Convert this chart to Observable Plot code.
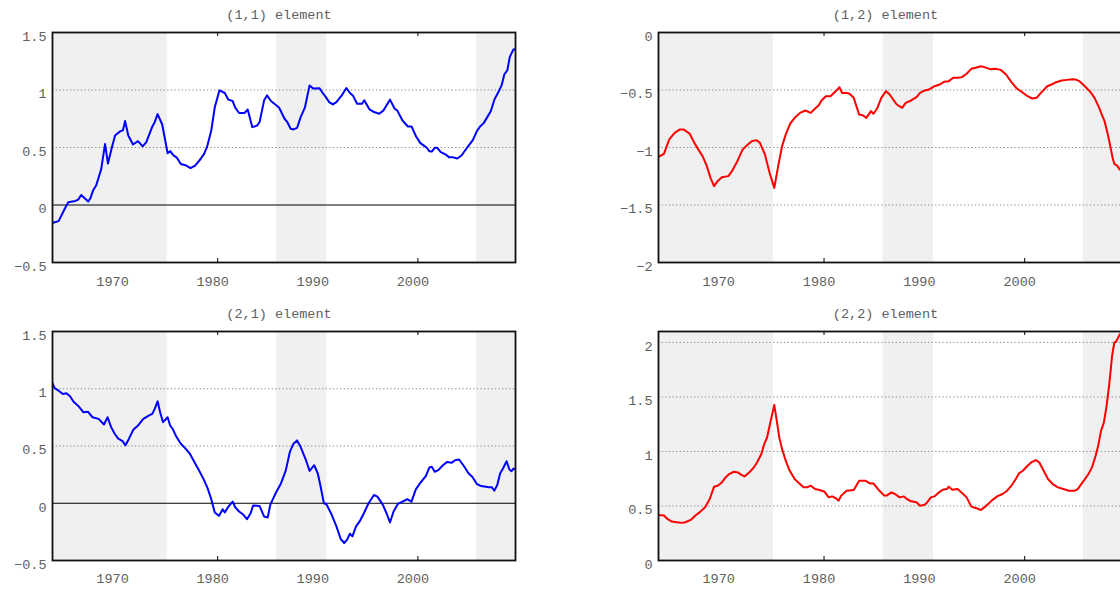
<!DOCTYPE html>
<html><head><meta charset="utf-8">
<script src="https://cdn.jsdelivr.net/npm/d3@7"></script>
<script src="https://cdn.jsdelivr.net/npm/@observablehq/plot@0.6"></script>
<style>
html,body{margin:0;padding:0;overflow:hidden;background:#fff;}
#root{position:relative;width:1120px;height:594px;overflow:hidden;}
.panel{position:absolute;}
</style></head><body><div id="root"></div>
<script>
// ---- data ----
const years11 = [1963.5,1963.71,1964.11,1964.71,1965.07,1965.79,1966.07,1966.36,1967.07,1967.29,1967.57,1967.86,1968.36,1968.75,1969.04,1969.43,1969.75,1970.25,1970.54,1970.75,1971.07,1971.54,1972.04,1972.5,1972.86,1973.46,1973.71,1974.0,1974.46,1975.0,1975.25,1975.61,1975.89,1976.32,1976.86,1977.29,1977.75,1978.29,1978.64,1978.93,1979.36,1979.71,1980.18,1980.71,1981.07,1981.5,1981.75,1982.14,1982.68,1983.0,1983.46,1983.93,1984.18,1984.64,1984.93,1985.32,1985.79,1986.14,1986.68,1986.96,1987.29,1987.57,1987.93,1988.29,1988.71,1989.18,1989.54,1990.18,1990.54,1990.79,1991.14,1991.5,1991.86,1992.39,1992.86,1993.21,1993.5,1993.93,1994.43,1994.64,1995.14,1995.61,1996.14,1996.57,1997.21,1997.68,1997.93,1998.46,1999.0,1999.36,1999.82,2000.25,2000.86,2001.14,2001.39,2001.68,2001.93,2002.29,2002.75,2003.11,2003.46,2003.93,2004.36,2004.71,2005.07,2005.5,2005.89,2006.21,2006.57,2006.93,2007.29,2007.64,2008.04,2008.36,2008.64,2008.93,2009.18,2009.54,2009.75];
const vals11 = [-0.157,-0.15,-0.14,-0.035,0.023,0.035,0.047,0.087,0.03,0.06,0.13,0.17,0.31,0.53,0.36,0.5,0.605,0.64,0.65,0.73,0.605,0.526,0.555,0.51,0.545,0.68,0.72,0.79,0.7,0.45,0.468,0.43,0.415,0.357,0.343,0.32,0.343,0.4,0.445,0.503,0.648,0.85,0.997,0.974,0.916,0.904,0.846,0.8,0.8,0.83,0.677,0.69,0.72,0.91,0.953,0.904,0.872,0.846,0.75,0.72,0.663,0.657,0.67,0.764,0.846,1.04,1.012,1.015,0.968,0.94,0.895,0.875,0.895,0.953,1.017,0.974,0.953,0.88,0.88,0.91,0.834,0.808,0.794,0.823,0.916,0.837,0.823,0.735,0.683,0.683,0.596,0.538,0.5,0.468,0.465,0.497,0.497,0.46,0.44,0.416,0.416,0.404,0.43,0.474,0.517,0.567,0.642,0.683,0.712,0.764,0.817,0.916,0.983,1.04,1.137,1.17,1.288,1.352,1.355];

const years12 = [1963.5,1964.04,1964.57,1965.11,1965.64,1966.0,1966.25,1966.61,1967.07,1967.43,1967.89,1968.32,1968.68,1969.04,1969.39,1969.82,1970.46,1970.82,1971.36,1971.89,1972.32,1972.79,1973.25,1973.61,1974.11,1974.57,1975.04,1975.46,1975.82,1976.18,1976.61,1977.07,1977.61,1978.14,1978.68,1979.11,1979.46,1979.75,1980.18,1980.64,1981.11,1981.54,1981.79,1982.25,1982.54,1982.96,1983.5,1983.86,1984.21,1984.68,1984.93,1985.29,1985.71,1986.18,1986.54,1986.89,1987.25,1987.79,1988.14,1988.68,1989.21,1989.57,1990.04,1990.46,1991.0,1991.54,1991.96,1992.43,1992.89,1993.32,1993.75,1994.21,1994.68,1995.11,1995.64,1996.0,1996.54,1997.07,1997.61,1998.14,1998.68,1999.21,1999.75,2000.29,2000.75,2001.18,2001.71,2002.25,2002.68,2003.14,2003.68,2004.21,2004.75,2005.11,2005.46,2006.0,2006.54,2006.96,2007.43,2007.68,2007.96,2008.25,2008.5,2008.75,2008.93,2009.21,2009.46,2009.75];
const vals12 = [-1.081,-1.055,-0.93,-0.872,-0.843,-0.843,-0.858,-0.881,-0.959,-1.012,-1.075,-1.162,-1.264,-1.336,-1.293,-1.258,-1.249,-1.206,-1.119,-1.017,-0.98,-0.945,-0.936,-0.959,-1.061,-1.22,-1.351,-1.148,-0.988,-0.887,-0.794,-0.742,-0.699,-0.678,-0.699,-0.661,-0.635,-0.591,-0.554,-0.554,-0.516,-0.475,-0.525,-0.525,-0.533,-0.568,-0.713,-0.719,-0.742,-0.684,-0.707,-0.661,-0.568,-0.51,-0.539,-0.583,-0.626,-0.655,-0.612,-0.591,-0.562,-0.525,-0.504,-0.496,-0.467,-0.452,-0.429,-0.423,-0.394,-0.394,-0.388,-0.359,-0.316,-0.307,-0.293,-0.301,-0.319,-0.316,-0.325,-0.365,-0.432,-0.487,-0.519,-0.554,-0.574,-0.568,-0.516,-0.467,-0.452,-0.432,-0.417,-0.412,-0.406,-0.409,-0.423,-0.467,-0.516,-0.568,-0.655,-0.713,-0.771,-0.872,-0.974,-1.084,-1.142,-1.157,-1.191,-1.2];

const years21 = [1963.5,1963.71,1964.11,1964.54,1964.89,1965.25,1965.61,1966.14,1966.57,1967.04,1967.5,1968.11,1968.64,1969.0,1969.36,1969.71,1970.07,1970.5,1970.79,1971.14,1971.57,1972.04,1972.57,1973.11,1973.46,1973.71,1974.0,1974.25,1974.54,1975.0,1975.25,1975.5,1975.89,1976.32,1976.79,1977.21,1977.75,1978.21,1978.64,1979.0,1979.36,1979.71,1980.14,1980.5,1980.71,1981.07,1981.5,1981.75,1982.14,1982.57,1982.93,1983.29,1983.54,1984.18,1984.64,1985.0,1985.25,1985.79,1986.32,1986.79,1987.21,1987.57,1987.93,1988.29,1988.82,1989.18,1989.64,1990.0,1990.25,1990.61,1990.86,1991.32,1991.86,1992.29,1992.64,1992.93,1993.21,1993.46,1993.82,1994.18,1994.64,1995.07,1995.61,1995.96,1996.5,1996.86,1997.21,1997.57,1998.0,1998.46,1998.93,1999.36,1999.79,2000.25,2000.79,2001.14,2001.39,2001.68,2002.04,2002.5,2002.93,2003.36,2003.71,2004.11,2004.54,2005.07,2005.43,2005.89,2006.32,2006.79,2007.04,2007.39,2007.64,2007.93,2008.21,2008.5,2008.86,2009.14,2009.36,2009.54,2009.75];
const vals21 = [1.05,1.006,0.983,0.954,0.96,0.934,0.887,0.844,0.795,0.8,0.751,0.737,0.688,0.751,0.665,0.607,0.564,0.543,0.506,0.564,0.642,0.679,0.737,0.766,0.78,0.824,0.89,0.795,0.708,0.751,0.679,0.65,0.578,0.52,0.477,0.434,0.347,0.275,0.202,0.13,0.035,-0.081,-0.11,-0.052,-0.081,-0.029,0.014,-0.035,-0.072,-0.101,-0.139,-0.087,-0.02,-0.023,-0.116,-0.124,-0.014,0.087,0.173,0.283,0.448,0.52,0.549,0.491,0.376,0.283,0.332,0.26,0.159,0.0,-0.009,-0.087,-0.202,-0.312,-0.347,-0.318,-0.266,-0.289,-0.202,-0.159,-0.081,0.0,0.072,0.058,-0.014,-0.087,-0.168,-0.072,-0.006,0.014,0.035,0.014,0.121,0.179,0.237,0.312,0.318,0.275,0.289,0.332,0.361,0.353,0.376,0.382,0.332,0.26,0.231,0.168,0.15,0.145,0.139,0.139,0.11,0.159,0.26,0.303,0.367,0.295,0.28,0.303,0.295];

const years22 = [1963.5,1964.04,1964.39,1964.82,1965.29,1965.82,1966.18,1966.71,1967.18,1967.68,1968.14,1968.61,1969.04,1969.39,1969.82,1970.18,1970.54,1971.0,1971.43,1971.71,1972.07,1972.54,1972.96,1973.32,1973.75,1974.04,1974.32,1974.68,1975.04,1975.29,1975.54,1975.82,1976.18,1976.54,1977.07,1977.54,1977.96,1978.32,1978.68,1979.11,1979.57,1980.04,1980.46,1980.82,1981.18,1981.46,1981.71,1982.25,1982.96,1983.5,1984.11,1984.57,1984.93,1985.46,1986.0,1986.25,1986.71,1987.07,1987.54,1987.96,1988.25,1988.68,1989.21,1989.57,1990.04,1990.29,1990.64,1991.0,1991.46,1991.82,1992.25,1992.43,1992.79,1993.32,1993.68,1994.21,1994.68,1995.11,1995.64,1996.18,1996.71,1997.25,1997.79,1998.25,1998.68,1999.11,1999.46,1999.82,2000.18,2000.64,2001.11,2001.46,2001.89,2002.32,2002.79,2003.32,2003.86,2004.39,2005.0,2005.29,2005.64,2006.0,2006.36,2006.71,2007.07,2007.36,2007.61,2007.89,2008.14,2008.43,2008.71,2008.93,2009.11,2009.39,2009.75];
const vals22 = [0.418,0.412,0.381,0.357,0.351,0.345,0.351,0.372,0.412,0.448,0.488,0.564,0.677,0.686,0.716,0.762,0.793,0.814,0.808,0.787,0.771,0.808,0.848,0.899,0.976,1.067,1.128,1.28,1.427,1.28,1.128,1.021,0.915,0.829,0.747,0.707,0.671,0.671,0.686,0.655,0.646,0.631,0.579,0.588,0.57,0.549,0.595,0.64,0.646,0.732,0.732,0.707,0.707,0.646,0.595,0.595,0.625,0.61,0.579,0.588,0.564,0.543,0.534,0.503,0.512,0.534,0.579,0.588,0.625,0.649,0.655,0.677,0.649,0.655,0.625,0.579,0.494,0.482,0.463,0.503,0.549,0.588,0.61,0.64,0.686,0.747,0.802,0.823,0.86,0.899,0.921,0.899,0.823,0.747,0.701,0.671,0.655,0.64,0.64,0.655,0.701,0.747,0.793,0.854,0.96,1.067,1.189,1.265,1.402,1.616,1.875,1.997,2.006,2.058,2.11];

const titles = ["(1,1) element", "(1,2) element", "(2,1) element", "(2,2) element"];
const decades = [1970, 1980, 1990, 2000];
const xDomain = [1963.5, 2009.75];
const shadeStart = [1963.5, 1985.9, 2005.85];
const shadeEnd = [1974.95, 1990.9, 2009.75];
const yTicksLeft = [-0.5, 0, 0.5, 1, 1.5];
const yTicks12 = [-2, -1.5, -1, -0.5, 0];
const yTicks22 = [0, 0.5, 1, 1.5, 2];

// ---- drawing ----
const FONT = "Liberation Mono, DejaVu Sans Mono, monospace";
const TXT = "#606060";
const fmt = d => (d < 0 ? "\u2212" : "") + Math.abs(d);

function panel(o) {
  const rows = o.years.map((t, i) => ({t, v: o.vals[i]}));
  const shades = shadeStart.map((s, i) => ({s, e: shadeEnd[i]}));
  const innerH = o.height - o.mT - o.mB;
  const tickLen = (o.yDomain[1] - o.yDomain[0]) * 4 / innerH;
  const textOpts = {fontFamily: FONT, fontSize: 13.5, fill: TXT, lineAnchor: "middle"};
  const marks = [
    Plot.ruleX(decades, {x: d => d, y1: o.yDomain[1], y2: o.yDomain[1] - tickLen, stroke: "#000", strokeWidth: 1}),
    Plot.ruleX(decades, {x: d => d, y1: o.yDomain[0], y2: o.yDomain[0] + tickLen, stroke: "#000", strokeWidth: 1}),
    Plot.rect(shades, {x1: "s", x2: "e", fill: "#f0f0f0"}),
    Plot.ruleY(o.yTicks.filter(d => !(o.zero && d === 0)), {y: d => d, stroke: "#8a8a8a", strokeWidth: 1, strokeDasharray: "1.3,2.3"}),
    o.zero ? Plot.ruleY([0], {stroke: "#000", strokeWidth: 1.2}) : null,
    Plot.line(rows, {x: "t", y: "v", stroke: o.color, strokeWidth: 2, clip: true}),
    Plot.frame({stroke: "#111", strokeWidth: 1.8}),
    Plot.text(o.yTicks, {y: d => d, text: fmt, frameAnchor: "left", textAnchor: "end", dx: -6, dy: 4, ...textOpts}),
    Plot.text(decades, {x: d => d, text: d => String(d), frameAnchor: "bottom", dy: o.xLabDy, dx: -5, ...textOpts}),
    Plot.text([o.title], {text: d => d, frameAnchor: "top", dy: o.titleDy, dx: -5, ...textOpts})
  ];
  const svg = Plot.plot({
    width: o.width, height: o.height,
    marginLeft: o.mL, marginRight: o.mR, marginTop: o.mT, marginBottom: o.mB,
    x: {domain: xDomain, axis: null},
    y: {domain: o.yDomain, axis: null},
    style: {background: "transparent", overflow: "visible", fontFamily: FONT},
    marks
  });
  svg.classList.add("panel");
  svg.style.left = o.left + "px";
  svg.style.top = o.top + "px";
  svg.style.position = "absolute";
  document.getElementById("root").appendChild(svg);
}

panel({title: titles[0], years: years11, vals: vals11, color: "#0000ff", yDomain: [-0.5, 1.5], yTicks: yTicksLeft, zero: true,
  left: 0, top: 0, width: 560, height: 297, mL: 52, mR: 45, mT: 32, mB: 35, titleDy: -18, xLabDy: 19});
panel({title: titles[1], years: years12, vals: vals12, color: "#ff0000", yDomain: [-2, 0], yTicks: yTicks12, zero: false,
  left: 560, top: 0, width: 572, height: 297, mL: 98, mR: 10, mT: 32, mB: 35, titleDy: -18, xLabDy: 19});
panel({title: titles[2], years: years21, vals: vals21, color: "#0000ff", yDomain: [-0.5, 1.5], yTicks: yTicksLeft, zero: true,
  left: 0, top: 297, width: 560, height: 297, mL: 52, mR: 45, mT: 34, mB: 34, titleDy: -17.5, xLabDy: 18.5});
panel({title: titles[3], years: years22, vals: vals22, color: "#ff0000", yDomain: [0, 2.1], yTicks: yTicks22, zero: false,
  left: 560, top: 297, width: 572, height: 297, mL: 98, mR: 10, mT: 34, mB: 34, titleDy: -17.5, xLabDy: 18.5});
</script>
</body></html>
